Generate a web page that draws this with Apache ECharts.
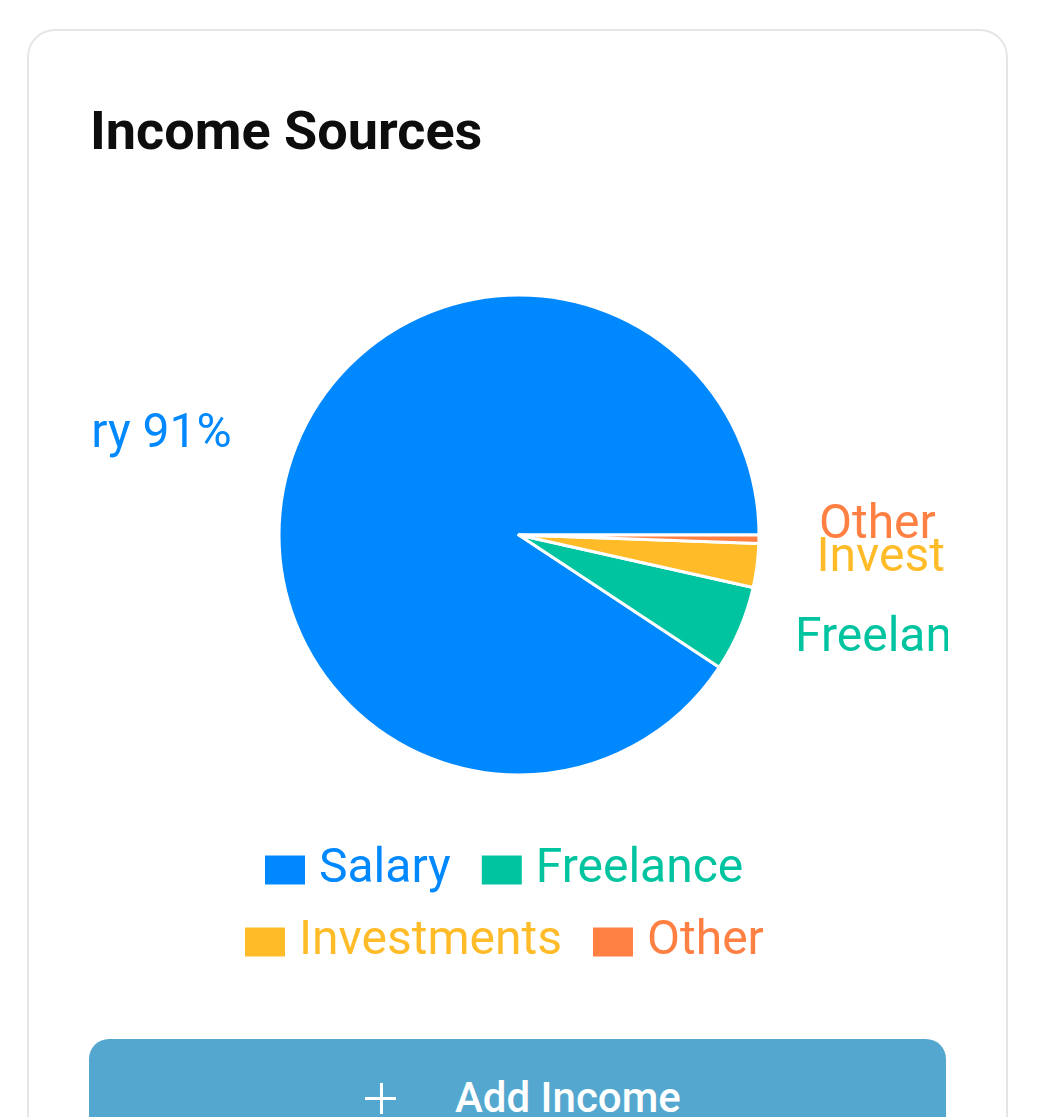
<!DOCTYPE html>
<html>
<head>
<meta charset="utf-8">
<script src="https://cdn.jsdelivr.net/npm/echarts@6/dist/echarts.min.js"></script>
<style>
  html, body { margin: 0; padding: 0; background: #ffffff; width: 1058px; height: 1117px; overflow: hidden; font-family: Roboto, "Noto Sans", sans-serif; }
  #card { position: absolute; left: 27px; top: 29px; width: 977px; height: 1300px; border: 2.5px solid #e6e6e6; border-radius: 28px; background: #fff; box-sizing: content-box; }
  #chart { position: absolute; left: 90px; top: 0px; width: 858px; height: 1039px; }
  #btn { position: absolute; left: 89px; top: 1039px; width: 857px; height: 160px; background: #54a8cf; border-radius: 20px; }
  #btnText { position: absolute; left: 455px; top: 1067.5px; color: #fff; font: 500 42px Roboto, sans-serif; line-height: 60px; white-space: nowrap; letter-spacing: 0px; }
  .plusH { position: absolute; left: 365px; top: 1096.5px; width: 31px; height: 3px; background: #fff; }
  .plusV { position: absolute; left: 379.5px; top: 1082.5px; width: 3px; height: 31px; background: #fff; }
</style>
</head>
<body>
<div id="card"></div>
<div id="btn"></div>
<div class="plusH"></div>
<div class="plusV"></div>
<div id="btnText">Add Income</div>
<div id="chart"></div>
<script>
const titleText = 'Income Sources';
const categories = ['Salary', 'Freelance', 'Investments', 'Other'];
const values = [8000, 510, 260, 50];
const colors = ['#0088FE', '#00C49F', '#FFBB28', '#FF8042'];
const legendRow1 = ['Salary', 'Freelance'];
const legendRow2 = ['Investments', 'Other'];

const chart = echarts.init(document.getElementById('chart'), null, { renderer: 'canvas' });

function legendData(names) {
  return names.map(n => ({ name: n, icon: 'rect', textStyle: { color: colors[categories.indexOf(n)] } }));
}
const legendCommon = {
  orient: 'horizontal',
  itemWidth: 42,
  itemHeight: 31,
  itemGap: 29,
  padding: 0,
  selectedMode: false,
  textStyle: { fontFamily: 'Roboto', fontSize: 48, padding: [0, 0, 0, 8] }
};

chart.setOption({
  animation: false,
  title: {
    text: titleText,
    left: 0,
    top: 108,
    padding: 0,
    textStyle: { fontFamily: 'Roboto', fontSize: 54, fontWeight: 'bold', color: '#0d0d0d' }
  },
  legend: [
    Object.assign({}, legendCommon, { left: 173, top: 846, data: legendData(legendRow1) }),
    Object.assign({}, legendCommon, { left: 153, top: 918, data: legendData(legendRow2) })
  ],
  series: [{
    type: 'pie',
    center: [429, 535],
    radius: 240,
    startAngle: 0,
    clockwise: false,
    avoidLabelOverlap: false,
    minShowLabelAngle: 0,
    percentPrecision: 0,
    silent: true,
    itemStyle: { borderColor: '#ffffff', borderWidth: 3 },
    label: {
      show: true,
      position: 'outside',
      formatter: '{b} {d}%',
      fontFamily: 'Roboto',
      fontSize: 48,
      color: 'inherit',
      distanceToLabelLine: 0
    },
    labelLine: { show: false, length: 60, length2: 0 },
    labelLayout: { dy: -14, hideOverlap: false, moveOverlap: null },
    emphasis: { disabled: true },
    data: categories.map((c, i) => ({ name: c, value: values[i], itemStyle: { color: colors[i] }, label: { color: colors[i] } }))
  }]
});
</script>
</body>
</html>
